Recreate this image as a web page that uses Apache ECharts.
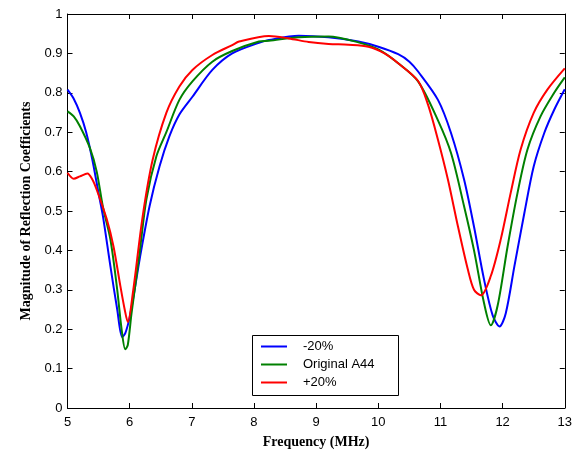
<!DOCTYPE html>
<html>
<head>
<meta charset="utf-8">
<script src="https://cdn.jsdelivr.net/npm/echarts@6/dist/echarts.min.js"></script>
<style>html,body{margin:0;padding:0;background:#fff}#c{width:575px;height:454px}</style>
</head>
<body>
<div id="c"></div>
<script>
const seriesNames = ['-20%', 'Original A44', '+20%'];
const seriesColors = ['#0000ff', '#008000', '#ff0000'];

const minusX = [5.0,5.1,5.2,5.3,5.4,5.5,5.57,5.69,5.8,5.88,5.93,6.0,6.08,6.16,6.32,6.48,6.64,6.8,7.01,7.33,7.65,8.08,8.24,8.72,9.2,9.68,10.0,10.32,10.5,10.64,10.96,11.17,11.38,11.54,11.7,11.84,11.95,12.05,12.19,12.35,12.5,12.67,12.83,13.0];
const minusY = [0.808,0.785,0.749,0.70,0.63,0.545,0.487,0.36,0.25,0.18,0.19,0.23,0.30,0.377,0.512,0.613,0.69,0.745,0.79,0.858,0.90,0.927,0.934,0.945,0.941,0.93,0.917,0.898,0.879,0.854,0.782,0.698,0.58,0.46,0.327,0.235,0.207,0.24,0.36,0.495,0.613,0.698,0.757,0.809];

const origX = [5.0,5.1,5.2,5.36,5.47,5.57,5.69,5.8,5.87,5.93,5.97,6.03,6.16,6.27,6.43,6.59,6.8,7.01,7.33,7.65,8.08,8.24,8.72,9.2,9.68,10.0,10.32,10.64,10.96,11.17,11.38,11.54,11.7,11.81,11.92,12.08,12.24,12.4,12.61,12.83,13.0];
const origY = [0.753,0.74,0.715,0.66,0.60,0.51,0.428,0.30,0.20,0.149,0.16,0.24,0.394,0.53,0.639,0.70,0.782,0.829,0.879,0.906,0.93,0.932,0.941,0.943,0.928,0.91,0.875,0.829,0.73,0.647,0.512,0.40,0.267,0.21,0.26,0.41,0.546,0.656,0.74,0.80,0.839];

const plusX = [5.0,5.1,5.2,5.32,5.4,5.47,5.63,5.74,5.85,5.92,5.97,6.05,6.21,6.37,6.59,6.8,7.01,7.33,7.65,7.76,8.24,8.56,8.88,9.2,9.52,9.84,10.1,10.32,10.64,10.8,10.96,11.12,11.28,11.44,11.54,11.65,11.81,11.97,12.13,12.29,12.5,12.72,13.0];
const plusY = [0.597,0.582,0.588,0.595,0.58,0.554,0.48,0.41,0.31,0.25,0.218,0.29,0.487,0.63,0.749,0.816,0.858,0.896,0.921,0.93,0.944,0.938,0.929,0.924,0.922,0.917,0.90,0.875,0.83,0.77,0.681,0.58,0.462,0.352,0.30,0.286,0.335,0.428,0.546,0.656,0.749,0.808,0.862];

const xTicks = [5,6,7,8,9,10,11,12,13];
const yTicks = [0,0.1,0.2,0.3,0.4,0.5,0.6,0.7,0.8,0.9,1];

const allX = [minusX, origX, plusX];
const allY = [minusY, origY, plusY];

const chart = echarts.init(document.getElementById('c'), null, {renderer: 'canvas'});
const lab = {color: '#000', fontFamily: 'Liberation Sans, Arial, sans-serif', fontSize: 13};
const axisLine = {show: true, onZero: false, lineStyle: {color: '#000', width: 1}};
const tick = {show: true, inside: true, length: 5, lineStyle: {color: '#000'}};

chart.setOption({
  animation: false,
  grid: {left: 67.5, right: 7.5, top: 14, bottom: 45, containLabel: false},
  legend: {
    left: 256, top: 335, orient: 'vertical',
    data: seriesNames,
    icon: 'path://M0,0 L26,0 L26,2 L0,2 Z',
    itemWidth: 26, itemHeight: 14, itemGap: 5,
    textStyle: {color: '#000', fontFamily: 'Liberation Sans, Arial, sans-serif', fontSize: 13, padding: [0,0,0,11]}
  },
  graphic: [{type: 'rect', left: 250, top: 333, shape: {width: 146, height: 60}, style: {fill: 'none', stroke: '#000', lineWidth: 1}, z: 100, silent: true}],
  xAxis: [{
    type: 'value', min: 5, max: 13, interval: 1,
    name: 'Frequency (MHz)', nameLocation: 'middle', nameGap: 27,
    nameTextStyle: {color: '#000', fontFamily: 'Liberation Serif, Times New Roman, serif', fontWeight: 'bold', fontSize: 14},
    axisLine: axisLine, axisTick: tick, splitLine: {show: false},
    axisLabel: Object.assign({margin: 8, formatter: v => xTicks.includes(v) ? String(v) : ''}, lab)
  }, {
    type: 'value', min: 5, max: 13, interval: 1, position: 'top',
    axisLine: axisLine, axisTick: tick, splitLine: {show: false}, axisLabel: {show: false}
  }],
  yAxis: [{
    type: 'value', min: 0, max: 1, interval: 0.1,
    name: 'Magnitude of Reflection Coefficients', nameLocation: 'middle', nameGap: 32, nameRotate: 90,
    nameTextStyle: {color: '#000', fontFamily: 'Liberation Serif, Times New Roman, serif', fontWeight: 'bold', fontSize: 14},
    axisLine: axisLine, axisTick: tick, splitLine: {show: false},
    axisLabel: Object.assign({margin: 5, formatter: v => { const t = yTicks.find(k => Math.abs(k - v) < 1e-6); return t === undefined ? '' : String(t); }}, lab)
  }, {
    type: 'value', min: 0, max: 1, interval: 0.1, position: 'right',
    axisLine: axisLine, axisTick: tick, splitLine: {show: false}, axisLabel: {show: false}
  }],
  series: seriesNames.map((n, i) => ({
    name: n, type: 'line', smooth: 0.3, symbol: 'none', showSymbol: false,
    color: seriesColors[i],
    itemStyle: {color: seriesColors[i]},
    lineStyle: {color: seriesColors[i], width: 2},
    data: allX[i].map((x, j) => [x, allY[i][j]])
  }))
});
</script>
</body>
</html>
